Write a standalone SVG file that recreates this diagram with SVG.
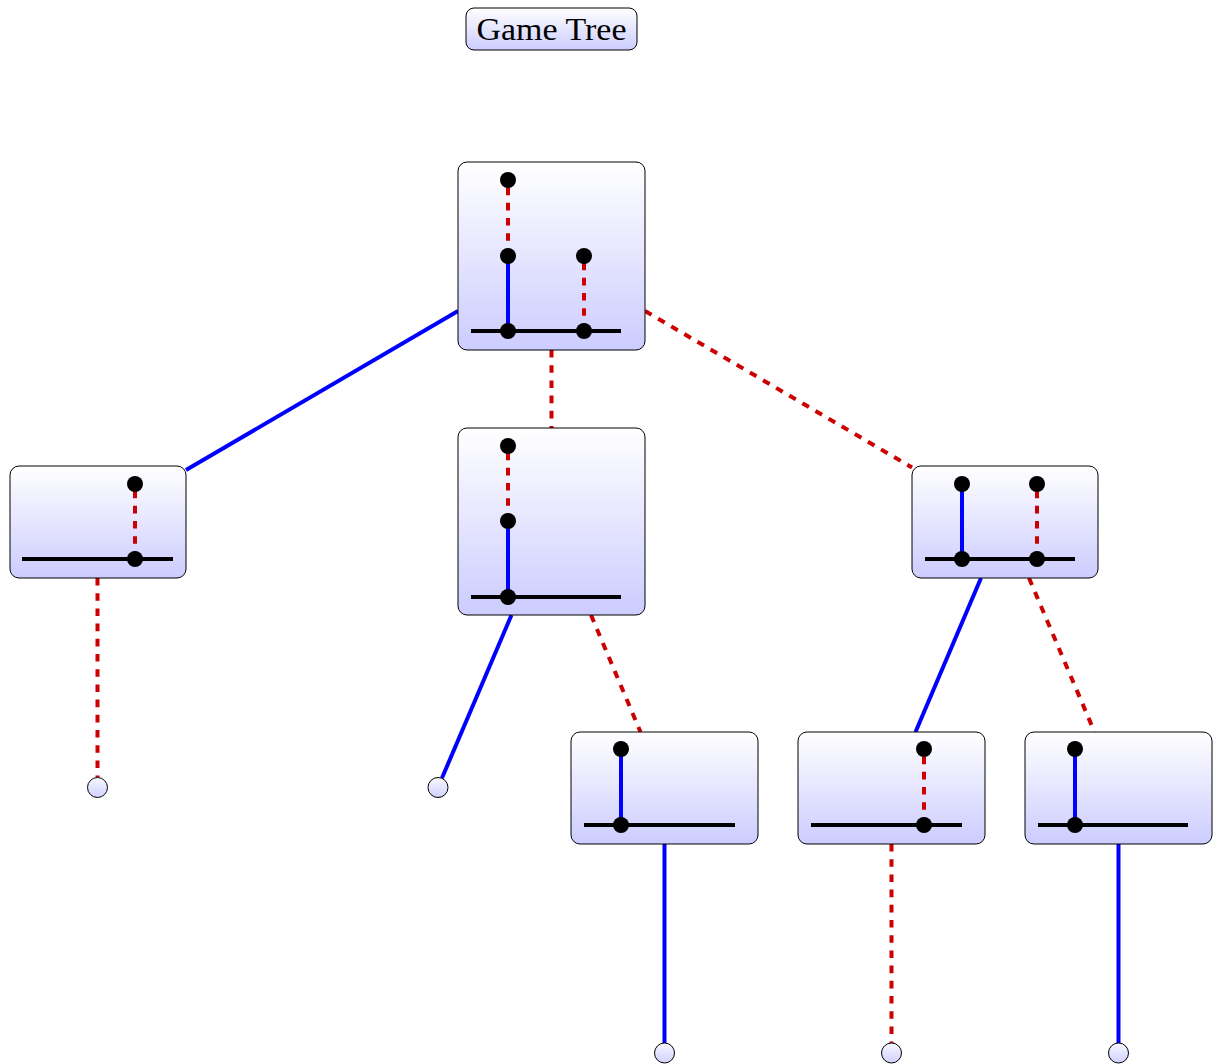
<svg xmlns="http://www.w3.org/2000/svg" width="1214" height="1064" viewBox="0 0 1214 1064">
<defs>
<linearGradient id="g" x1="0" y1="0" x2="0" y2="1">
<stop offset="0" stop-color="#ffffff"/>
<stop offset="1" stop-color="#ccccff"/>
</linearGradient>
<linearGradient id="gl" x1="0" y1="0" x2="0" y2="1">
<stop offset="0" stop-color="#f8f8ff"/>
<stop offset="1" stop-color="#d0d0ff"/>
</linearGradient>
<style>
.box{fill:url(#g);stroke:#000;stroke-width:1}
.leaf{fill:url(#gl);stroke:#000;stroke-width:1}
.base{stroke:#000;stroke-width:4;fill:none}
.blue{stroke:#0000ff;stroke-width:4;fill:none}
.red{stroke:#cc0000;stroke-width:4;fill:none;stroke-dasharray:7.6 7.6}
.dot{fill:#000}
.title{font-family:"Liberation Serif","DejaVu Serif",serif;font-size:31px;fill:#000}
</style>
</defs>
<rect width="1214" height="1064" fill="#fff"/>
<g id="connectors">
<line class="blue" x1="458" y1="311" x2="186" y2="470"/>
<line class="red" x1="551.5" y1="350" x2="551.5" y2="428"/>
<line class="red" x1="645" y1="311" x2="912" y2="467.5"/>
<line class="red" x1="97.5" y1="578" x2="97.5" y2="777"/>
<line class="blue" x1="511.5" y1="615" x2="442" y2="778"/>
<line class="red" x1="591" y1="615" x2="640.5" y2="732"/>
<line class="blue" x1="981" y1="578" x2="915.5" y2="732"/>
<line class="red" x1="1029" y1="578" x2="1094.5" y2="732"/>
<line class="blue" x1="664.5" y1="844" x2="664.5" y2="1043"/>
<line class="red" x1="891.5" y1="844" x2="891.5" y2="1043"/>
<line class="blue" x1="1118.5" y1="844" x2="1118.5" y2="1043"/>
</g>
<g id="title">
<rect class="box" x="466" y="8" width="171" height="42" rx="8"/>
<text class="title" x="551.5" y="40" text-anchor="middle" textLength="150" lengthAdjust="spacingAndGlyphs">Game Tree</text>
</g>
<g id="root">
<rect class="box" x="458" y="162" width="187" height="188" rx="9"/>
<line class="base" x1="471" y1="331" x2="621" y2="331"/>
<line class="blue" x1="508" y1="331" x2="508" y2="256"/>
<line class="red" x1="508" y1="256" x2="508" y2="180"/>
<line class="red" x1="584" y1="331" x2="584" y2="256"/>
<circle class="dot" cx="508" cy="331" r="8"/>
<circle class="dot" cx="584" cy="331" r="8"/>
<circle class="dot" cx="508" cy="256" r="8"/>
<circle class="dot" cx="584" cy="256" r="8"/>
<circle class="dot" cx="508" cy="180" r="8"/>
</g>
<g id="left">
<rect class="box" x="10" y="466" width="176" height="112" rx="9"/>
<line class="base" x1="22" y1="559" x2="173" y2="559"/>
<line class="red" x1="135" y1="559" x2="135" y2="484"/>
<circle class="dot" cx="135" cy="559" r="8"/>
<circle class="dot" cx="135" cy="484" r="8"/>
</g>
<g id="middle">
<rect class="box" x="458" y="428" width="187" height="187" rx="9"/>
<line class="base" x1="471" y1="597" x2="621" y2="597"/>
<line class="blue" x1="508" y1="597" x2="508" y2="521"/>
<line class="red" x1="508" y1="521" x2="508" y2="446"/>
<circle class="dot" cx="508" cy="597" r="8"/>
<circle class="dot" cx="508" cy="521" r="8"/>
<circle class="dot" cx="508" cy="446" r="8"/>
</g>
<g id="right">
<rect class="box" x="912" y="466" width="186" height="112" rx="9"/>
<line class="base" x1="925" y1="559" x2="1075" y2="559"/>
<line class="blue" x1="962" y1="559" x2="962" y2="484"/>
<line class="red" x1="1037" y1="559" x2="1037" y2="484"/>
<circle class="dot" cx="962" cy="559" r="8"/>
<circle class="dot" cx="962" cy="484" r="8"/>
<circle class="dot" cx="1037" cy="559" r="8"/>
<circle class="dot" cx="1037" cy="484" r="8"/>
</g>
<g id="nodeA">
<rect class="box" x="571" y="732" width="187" height="112" rx="9"/>
<line class="base" x1="584" y1="825" x2="735" y2="825"/>
<line class="blue" x1="621" y1="825" x2="621" y2="749"/>
<circle class="dot" cx="621" cy="825" r="8"/>
<circle class="dot" cx="621" cy="749" r="8"/>
</g>
<g id="nodeB">
<rect class="box" x="798" y="732" width="187" height="112" rx="9"/>
<line class="base" x1="811" y1="825" x2="962" y2="825"/>
<line class="red" x1="924" y1="825" x2="924" y2="749"/>
<circle class="dot" cx="924" cy="825" r="8"/>
<circle class="dot" cx="924" cy="749" r="8"/>
</g>
<g id="nodeC">
<rect class="box" x="1025" y="732" width="187" height="112" rx="9"/>
<line class="base" x1="1038" y1="825" x2="1188" y2="825"/>
<line class="blue" x1="1075" y1="825" x2="1075" y2="749"/>
<circle class="dot" cx="1075" cy="825" r="8"/>
<circle class="dot" cx="1075" cy="749" r="8"/>
</g>
<g id="leaf1"><circle class="leaf" cx="97.5" cy="787.5" r="10"/></g>
<g id="leaf2"><circle class="leaf" cx="438" cy="787.5" r="10"/></g>
<g id="leaf3"><circle class="leaf" cx="664.5" cy="1053" r="10"/></g>
<g id="leaf4"><circle class="leaf" cx="891.5" cy="1053" r="10"/></g>
<g id="leaf5"><circle class="leaf" cx="1118.5" cy="1053" r="10"/></g>
</svg>
